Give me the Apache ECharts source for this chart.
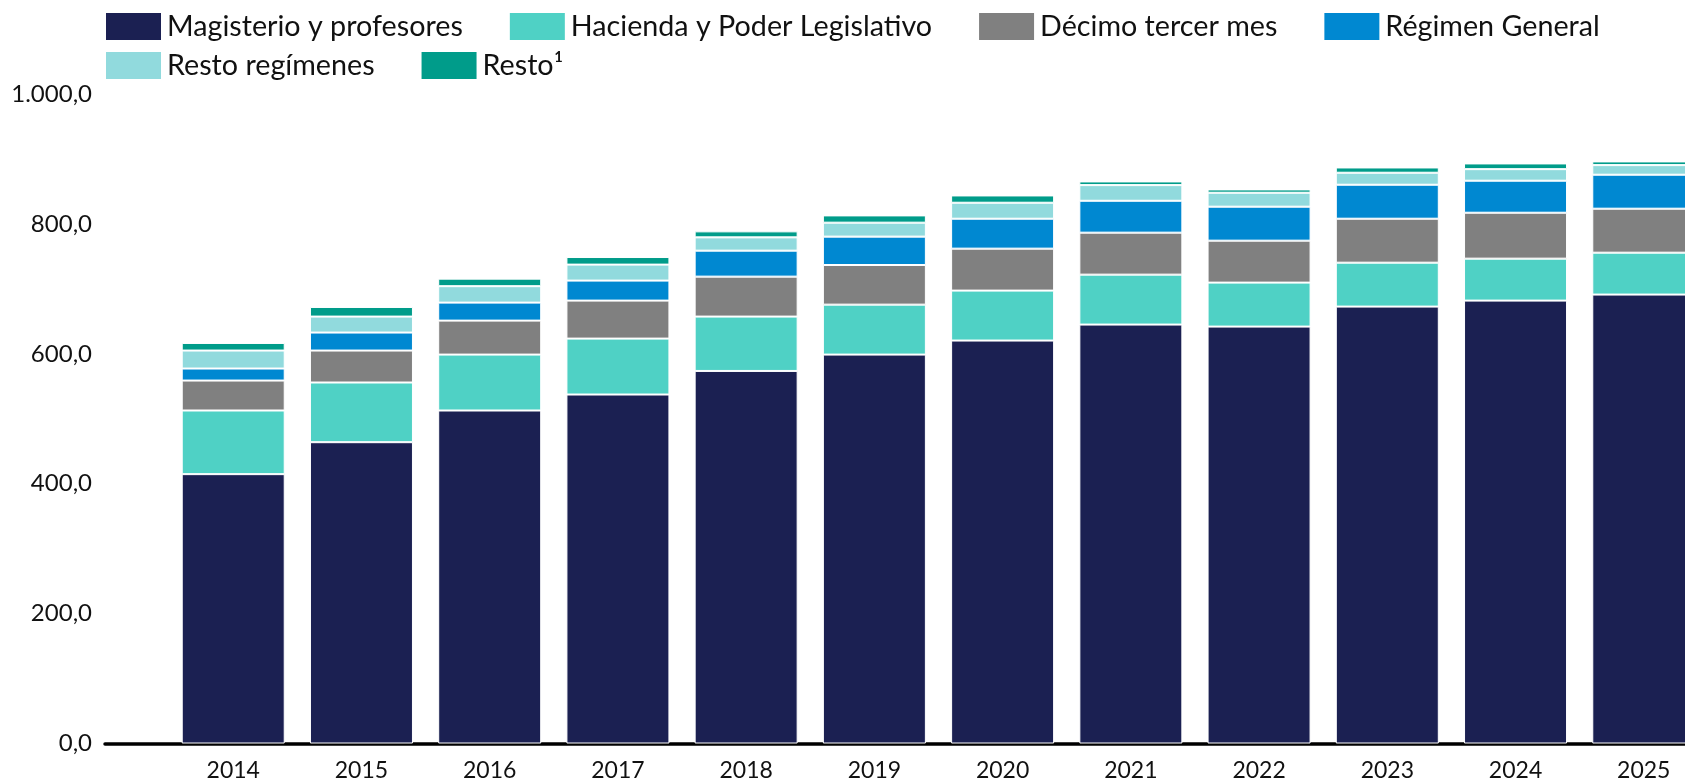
<!DOCTYPE html>
<html>
<head>
<meta charset="utf-8">
<script src="https://cdn.jsdelivr.net/npm/echarts@6/dist/echarts.min.js"></script>
<style>
html,body{margin:0;padding:0;background:#fff;}
#chart{width:1685px;height:784px;}
</style>
</head>
<body>
<div id="chart"></div>
<script>
// ---- data ----
const years = ['2014', '2015', '2016', '2017', '2018', '2019', '2020', '2021', '2022', '2023', '2024', '2025'];
const seriesNames = ['Magisterio y profesores', 'Hacienda y Poder Legislativo', 'Décimo tercer mes', 'Régimen General', 'Resto regímenes', 'Resto¹'];
const magisterio = [414.7, 463.9, 512.7, 537.3, 573.6, 598.8, 620.4, 645.0, 641.9, 672.7, 681.9, 691.2];
const hacienda   = [98.0, 91.9, 86.1, 86.1, 83.7, 76.9, 76.9, 76.9, 67.7, 67.6, 64.6, 64.5];
const decimo     = [46.1, 49.2, 52.3, 58.5, 61.5, 61.0, 64.6, 64.6, 64.6, 67.7, 70.7, 67.7];
const regimen    = [18.5, 27.7, 27.7, 30.8, 40.0, 43.7, 46.1, 49.1, 52.3, 52.3, 49.3, 52.3];
const restoReg   = [27.7, 24.6, 25.3, 24.6, 20.5, 21.5, 24.6, 24.1, 21.5, 18.5, 17.8, 14.8];
const resto      = [11.7, 14.8, 11.6, 11.7, 9.2, 11.2, 11.2, 5.7, 5.1, 8.1, 8.8, 5.7];
const yTicks = [0, 200, 400, 600, 800, 1000];

const colors = ['#1B2052', '#4FD1C5', '#808080', '#0088D1', '#91DADD', '#009C8A'];
const values = [magisterio, hacienda, decimo, regimen, restoReg, resto];

function fmtES(v) {
  const s = v.toFixed(1).split('.');
  const int = s[0].replace(/\B(?=(\d{3})+(?!\d))/g, '.');
  return int + ',' + s[1];
}

// axis behaves like a date axis running from 2013 to 2026: empty slots at both ends
const axisCats = [''].concat(years, ['']);

const chart = echarts.init(document.getElementById('chart'), null, {renderer: 'canvas'});
const font = 'Lato, "Noto Sans", sans-serif';

const legendCommon = {
  orient: 'horizontal',
  icon: 'rect',
  padding: 0,
  itemWidth: 57,
  itemHeight: 29,
  itemGap: 45,
  selectedMode: false,
  textStyle: {fontFamily: font, fontSize: 28.7, color: '#111'}
};

const option = {
  backgroundColor: '#ffffff',
  animation: false,
  color: colors,
  legend: [
    Object.assign({}, legendCommon, {left: 104, top: 11, data: seriesNames.slice(0, 4)}),
    Object.assign({}, legendCommon, {left: 104, top: 50, data: seriesNames.slice(4)})
  ],
  grid: {left: 105, top: 94, width: 1667, height: 649.5, containLabel: false, outerBoundsMode: 'none'},
  xAxis: {
    type: 'category',
    data: axisCats,
    boundaryGap: false,
    axisLine: {show: true, onZero: false, lineStyle: {color: '#000', width: 3.5}},
    axisTick: {show: false},
    splitLine: {show: false},
    axisLabel: {
      interval: 0,
      margin: 16,
      fontFamily: font,
      fontSize: 23,
      color: '#111'
    }
  },
  yAxis: {
    type: 'value',
    min: yTicks[0],
    max: yTicks[yTicks.length - 1],
    interval: 200,
    axisLine: {show: false},
    axisTick: {show: false},
    splitLine: {show: false},
    axisLabel: {
      margin: 13,
      fontFamily: font,
      fontSize: 24,
      color: '#111',
      formatter: function (v) { return fmtES(v); }
    }
  },
  series: seriesNames.map(function (name, i) {
    return {
      name: name,
      type: 'bar',
      stack: 'total',
      barWidth: 103,
      itemStyle: {color: colors[i], borderColor: '#ffffff', borderWidth: 1},
      emphasis: {disabled: true},
      data: [null].concat(values[i], [null])
    };
  })
};
chart.setOption(option);
</script>
</body>
</html>
